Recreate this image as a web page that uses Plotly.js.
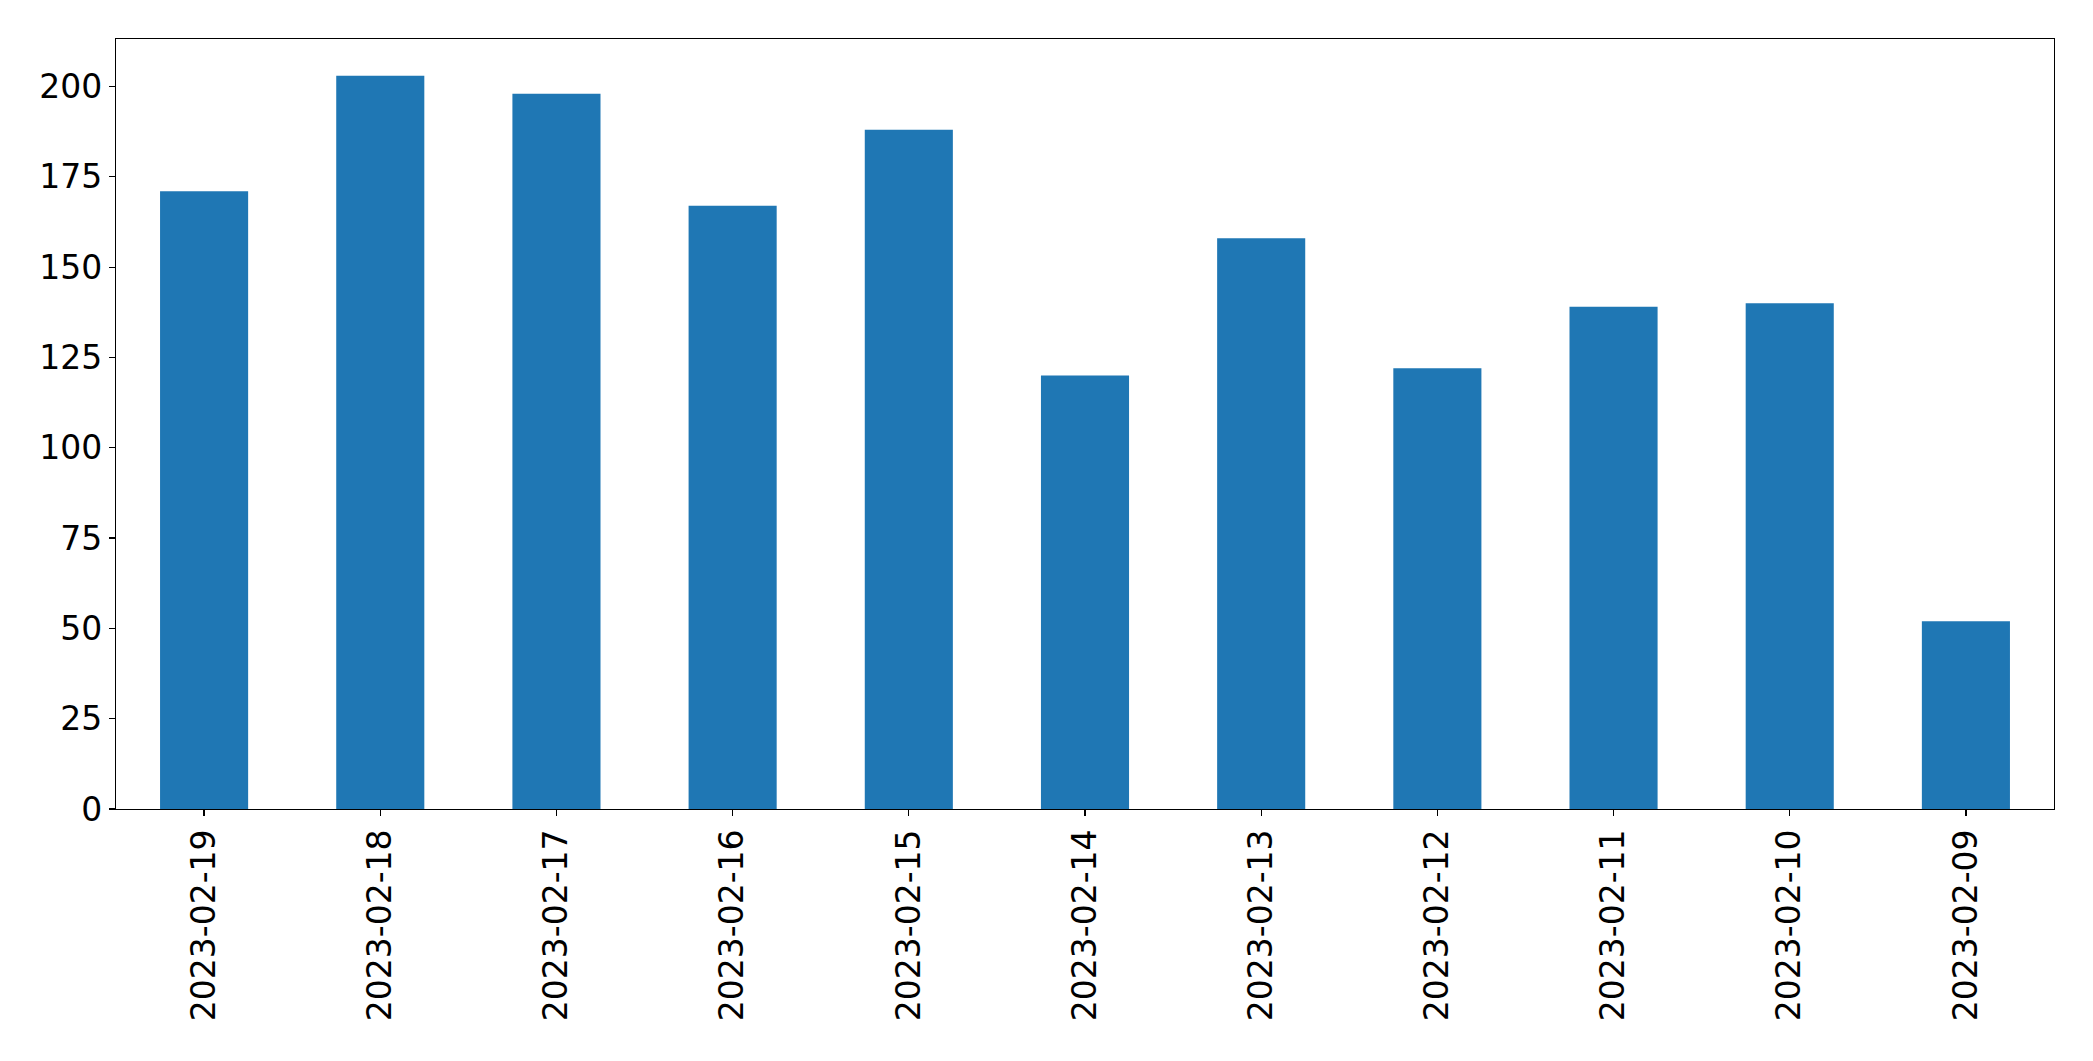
<!DOCTYPE html>
<html>
<head>
<meta charset="utf-8">
<script src="https://cdn.plot.ly/plotly-3.0.1.min.js"></script>
<style>
html,body{margin:0;padding:0;background:#fff;}
#chart{width:2093px;height:1061px;}
</style>
</head>
<body>
<div id="chart"></div>
<script>
const dates = ["2023-02-19","2023-02-18","2023-02-17","2023-02-16","2023-02-15","2023-02-14","2023-02-13","2023-02-12","2023-02-11","2023-02-10","2023-02-09"];
const counts = [171, 203, 198, 167, 188, 120, 158, 122, 139, 140, 52];
const yTicks = [0, 25, 50, 75, 100, 125, 150, 175, 200];

const maxV = Math.max(...counts);

const trace = {
  type: "bar",
  x: dates,
  y: counts,
  width: 0.5,
  marker: {color: "#1f77b4", line: {width: 0}},
  hoverinfo: "x+y"
};

const layout = {
  width: 2093,
  height: 1061,
  margin: {l: 116, r: 39, t: 39, b: 252, pad: 0},
  paper_bgcolor: "#fff",
  plot_bgcolor: "#fff",
  showlegend: false,
  font: {family: "DejaVu Sans", size: 33, color: "#000"},
  xaxis: {
    type: "category",
    range: [-0.5, dates.length - 0.5],
    tickangle: -90,
    ticks: "outside",
    ticklen: 6,
    tickwidth: 1.2,
    tickcolor: "#000",
    showline: true,
    linecolor: "#000",
    linewidth: 1.2,
    mirror: true,
    showgrid: false,
    zeroline: false,
    tickfont: {family: "DejaVu Sans", size: 33, color: "#000"}
  },
  yaxis: {
    range: [0, maxV * 1.05],
    tickmode: "array",
    tickvals: yTicks,
    ticktext: yTicks.map(String),
    ticks: "outside",
    ticklen: 6,
    tickwidth: 1.2,
    tickcolor: "#000",
    showline: true,
    linecolor: "#000",
    linewidth: 1.2,
    mirror: true,
    showgrid: false,
    zeroline: false,
    tickfont: {family: "DejaVu Sans", size: 33, color: "#000"}
  },
  bargap: 0.5
};

Plotly.newPlot("chart", [trace], layout, {displayModeBar: false, staticPlot: true});
</script>
</body>
</html>
